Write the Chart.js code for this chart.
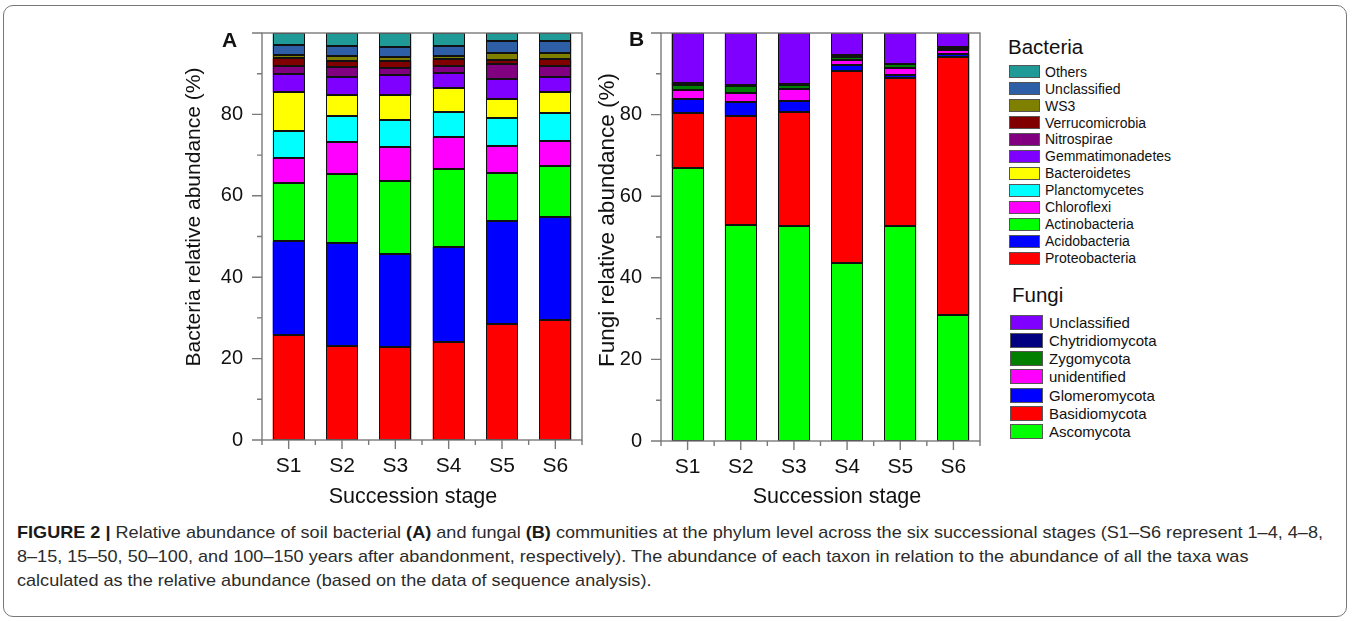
<!DOCTYPE html>
<html>
<head>
<meta charset="utf-8">
<script src="https://cdn.jsdelivr.net/npm/chart.js@4.4.1/dist/chart.umd.min.js"></script>
<style>
  html, body { margin: 0; padding: 0; background: #fff; }
  body { width: 1357px; height: 621px; position: relative; overflow: hidden;
         font-family: "Liberation Sans", Arial, sans-serif; color: #111; }
  #frame { position: absolute; left: 3px; top: 5px; width: 1344px; height: 612px;
           border: 1px solid #777; border-radius: 10px; box-sizing: border-box; }
  canvas { position: absolute; }
  #cA { left: 160px; top: 20px; }
  #cB { left: 580px; top: 20px; }
  .lg-title { position: absolute; white-space: nowrap; line-height: 1; }
  .lg-item { position: absolute; white-space: nowrap; display: flex; align-items: center; }
  .lg-box { box-sizing: border-box; border: 1px solid #555; flex: none; }
  .cap { position: absolute; left: 17px; white-space: nowrap; line-height: 20px; height: 20px;
         font-family: "Liberation Sans", Arial, sans-serif;
         font-size: 17px; color: #2b2b2b; transform-origin: 0 50%; }
  .cap b { color: #1a1a1a; }
</style>
</head>
<body>
<div id="frame"></div>
<canvas id="cA" width="440" height="500"></canvas>
<canvas id="cB" width="420" height="500"></canvas>
<div id="legendBacteria"></div>
<div id="legendFungi"></div>
<div class="cap" style="top:523px"><b>FIGURE 2 |</b> Relative abundance of soil bacterial <b>(A)</b> and fungal <b>(B)</b> communities at the phylum level across the six successional stages (S1–S6 represent 1–4, 4–8,</div>
<div class="cap" style="top:547px">8–15, 15–50, 50–100, and 100–150 years after abandonment, respectively). The abundance of each taxon in relation to the abundance of all the taxa was</div>
<div class="cap" style="top:571px">calculated as the relative abundance (based on the data of sequence analysis).</div>

<script>
// Succession stages
const stages = ['S1', 'S2', 'S3', 'S4', 'S5', 'S6'];

// Bacterial phyla, relative abundance (%), listed from the bottom of each stack upward
const proteobacteria       = [25.9, 23.0, 22.9, 24.2, 28.4, 29.4];
const acidobacteria        = [22.9, 25.4, 22.9, 23.3, 25.4, 25.5];
const actinobacteria       = [14.4, 16.9, 17.8, 19.0, 11.9, 12.3];
const chloroflexi          = [6.1, 7.8, 8.4, 7.9, 6.6, 6.3];
const planctomycetes       = [6.6, 6.5, 6.6, 6.3, 6.9, 6.9];
const bacteroidetes        = [9.5, 5.1, 6.1, 5.7, 4.7, 5.0];
const gemmatimonadetes     = [4.5, 4.4, 4.9, 3.7, 4.9, 3.7];
const nitrospirae          = [1.9, 2.5, 1.7, 1.7, 3.5, 2.9];
const verrucomicrobia      = [2.0, 1.5, 1.8, 1.7, 1.1, 1.5];
const ws3                  = [0.9, 1.2, 1.0, 0.8, 1.6, 1.5];
const bacteriaUnclassified = [2.3, 2.6, 2.4, 2.4, 3.1, 3.0];
const bacteriaOthers       = [3.0, 3.1, 3.5, 3.3, 1.9, 2.0];

// Fungal phyla, relative abundance (%), listed from the bottom of each stack upward
const ascomycota        = [66.8, 52.9, 52.6, 43.6, 52.6, 30.8];
const basidiomycota     = [13.5, 26.8, 28.0, 47.2, 36.3, 63.2];
const glomeromycota     = [3.6, 3.4, 2.8, 1.4, 0.8, 0.9];
const fungiUnidentified = [2.1, 2.3, 2.8, 1.1, 1.7, 0.9];
const zygomycota        = [1.2, 1.6, 1.0, 0.9, 0.9, 0.5];
const chytridiomycota   = [0.5, 0.2, 0.2, 0.3, 0.2, 0.3];
const fungiUnclassified = [12.3, 12.8, 12.6, 5.5, 7.5, 3.4];

// Y axis: labelled every 20 %, minor marks every 10 %
const yMajorStep = 20;
const yMinorStep = 10;

const bacteriaSeries = [
  ['Proteobacteria', proteobacteria, '#ff0000'],
  ['Acidobacteria', acidobacteria, '#0000ff'],
  ['Actinobacteria', actinobacteria, '#00ff00'],
  ['Chloroflexi', chloroflexi, '#ff00ff'],
  ['Planctomycetes', planctomycetes, '#00ffff'],
  ['Bacteroidetes', bacteroidetes, '#ffff00'],
  ['Gemmatimonadetes', gemmatimonadetes, '#8000ff'],
  ['Nitrospirae', nitrospirae, '#800080'],
  ['Verrucomicrobia', verrucomicrobia, '#800000'],
  ['WS3', ws3, '#808000'],
  ['Unclassified', bacteriaUnclassified, '#2e5fa6'],
  ['Others', bacteriaOthers, '#1f9a97']
];

const fungiSeries = [
  ['Ascomycota', ascomycota, '#00ff00'],
  ['Basidiomycota', basidiomycota, '#ff0000'],
  ['Glomeromycota', glomeromycota, '#0000ff'],
  ['unidentified', fungiUnidentified, '#ff00ff'],
  ['Zygomycota', zygomycota, '#007f00'],
  ['Chytridiomycota', chytridiomycota, '#000080'],
  ['Unclassified', fungiUnclassified, '#8000ff']
];

const AXIS = '#7a7a7a';
Chart.defaults.font.family = '"Liberation Sans", Arial, sans-serif';
Chart.defaults.color = '#111';

// Crisp black outline around every stacked segment
const segmentOutline = {
  id: 'segmentOutline',
  afterDatasetsDraw(chart) {
    const ctx = chart.ctx;
    ctx.save();
    ctx.strokeStyle = '#111';
    ctx.lineWidth = 1;
    chart.data.datasets.forEach((ds, i) => {
      chart.getDatasetMeta(i).data.forEach(bar => {
        const left = Math.round(bar.x - bar.width / 2) + 0.5;
        const right = Math.round(bar.x + bar.width / 2) - 0.5;
        const top = Math.round(bar.y) + 0.5;
        const bottom = Math.round(bar.base) - 0.5;
        ctx.strokeRect(left, top, right - left, Math.max(bottom - top, 0));
      });
    });
    ctx.restore();
  }
};

// Frame, tick marks, axis titles and panel letter
const decor = {
  id: 'decor',
  afterDraw(chart, args, o) {
    const { ctx, chartArea: a, scales: { x, y } } = chart;
    ctx.save();
    ctx.strokeStyle = AXIS;
    ctx.lineWidth = 1.4;
    ctx.strokeRect(a.left, a.top, a.right - a.left, a.bottom - a.top);
    ctx.beginPath();
    for (let v = 0; v <= 100; v += yMinorStep) {
      const py = y.getPixelForValue(v);
      const len = v % yMajorStep === 0 ? 10 : 5;
      ctx.moveTo(a.left - len, py); ctx.lineTo(a.left, py);
    }
    const n = stages.length;
    for (let i = 0; i < n; i++) {
      const px = x.getPixelForValue(i);
      ctx.moveTo(px, a.bottom); ctx.lineTo(px, a.bottom + 9);
    }
    for (let i = 0; i <= n; i++) {
      const px = x.getPixelForValue(i - 0.5);
      ctx.moveTo(px, a.bottom); ctx.lineTo(px, a.bottom + 5);
    }
    ctx.stroke();

    ctx.fillStyle = '#111';
    ctx.textAlign = 'center';
    ctx.textBaseline = 'middle';
    ctx.font = '21.5px "Liberation Sans", Arial, sans-serif';
    ctx.fillText('Succession stage', o.xTitleX, o.xTitleY);

    ctx.save();
    ctx.translate(o.yTitleX, o.yTitleY);
    ctx.rotate(-Math.PI / 2);
    ctx.font = o.yTitleSize + 'px "Liberation Sans", Arial, sans-serif';
    ctx.fillText(o.yTitle, 0, 0);
    ctx.restore();

    ctx.font = 'bold 21px "Liberation Sans", Arial, sans-serif';
    ctx.fillText(o.letter, o.letterX, o.letterY);
    ctx.restore();
  }
};

function makeChart(id, series, opts) {
  return new Chart(document.getElementById(id), {
    type: 'bar',
    data: {
      labels: stages,
      datasets: series.map(([name, values, color]) => ({
        label: name, data: values, backgroundColor: color,
        borderWidth: 0, inflateAmount: 0,
        barPercentage: 0.6, categoryPercentage: 1.0
      }))
    },
    options: {
      responsive: false, animation: false, devicePixelRatio: 1,
      layout: { padding: { left: 0, right: opts.padRight, top: 13, bottom: 0 } },
      plugins: {
        legend: { display: false }, tooltip: { enabled: false },
        decor: opts.decor
      },
      scales: {
        x: {
          stacked: true, offset: true,
          grid: { display: false, drawTicks: false }, border: { display: false },
          ticks: { font: { size: 21 }, padding: 14, color: '#111' },
          afterFit(s) { s.height = opts.xHeight; s.paddingLeft = 0; s.paddingRight = 0; }
        },
        y: {
          stacked: true, min: 0, max: 100,
          grid: { display: false, drawTicks: false }, border: { display: false },
          ticks: {
            stepSize: yMinorStep, padding: 19, font: { size: 20 }, color: '#111',
            callback: v => (v % yMajorStep === 0 && v < 100) ? v : ''
          },
          afterFit(s) { s.width = opts.yWidth; s.paddingTop = 0; s.paddingBottom = 0; }
        }
      }
    },
    plugins: [segmentOutline, decor]
  });
}

makeChart('cA', bacteriaSeries, {
  padRight: 18, xHeight: 80, yWidth: 102,
  decor: { xTitleX: 253, xTitleY: 477, yTitle: 'Bacteria relative abundance (%)',
           yTitleX: 34, yTitleY: 197, yTitleSize: 21, letter: 'A', letterX: 69.5, letterY: 21 }
});

makeChart('cB', fungiSeries, {
  padRight: 20, xHeight: 79, yWidth: 81,
  decor: { xTitleX: 257, xTitleY: 477, yTitle: 'Fungi relative abundance (%)',
           yTitleX: 28, yTitleY: 200, yTitleSize: 22.5, letter: 'B', letterX: 56.5, letterY: 20 }
});

// Legends (top entry is the top of the stack)
function buildLegend(el, title, series, g) {
  const t = document.createElement('div');
  t.className = 'lg-title';
  t.textContent = title;
  t.style.left = g.titleX + 'px';
  t.style.top = (g.titleY - g.titleSize / 2) + 'px';
  t.style.fontSize = g.titleSize + 'px';
  el.appendChild(t);
  series.slice().reverse().forEach(([name, , color], i) => {
    const row = document.createElement('div');
    row.className = 'lg-item';
    row.style.left = g.boxX + 'px';
    row.style.top = (g.firstY + i * g.step - 10) + 'px';
    row.style.height = '20px';
    row.style.fontSize = g.textSize + 'px';
    const box = document.createElement('div');
    box.className = 'lg-box';
    box.style.width = g.boxW + 'px';
    box.style.height = g.boxH + 'px';
    box.style.background = color;
    box.style.marginRight = g.gap + 'px';
    row.appendChild(box);
    row.appendChild(document.createTextNode(name));
    el.appendChild(row);
  });
}

buildLegend(document.getElementById('legendBacteria'), 'Bacteria', bacteriaSeries,
  { titleX: 1008, titleY: 47, titleSize: 20.5, boxX: 1009, boxW: 31, boxH: 13, gap: 5,
    firstY: 71.7, step: 16.94, textSize: 14 });
buildLegend(document.getElementById('legendFungi'), 'Fungi', fungiSeries,
  { titleX: 1012, titleY: 295, titleSize: 20.5, boxX: 1010, boxW: 33, boxH: 15, gap: 6,
    firstY: 322.3, step: 18.23, textSize: 15 });

// Caption: condense to the column width
(function fitCaption() {
  const lines = document.querySelectorAll('.cap');
  const w = lines[0].getBoundingClientRect().width;
  const k = 1306 / w;
  lines.forEach(l => { l.style.transform = 'scaleX(' + k + ')'; });
})();
</script>
</body>
</html>
